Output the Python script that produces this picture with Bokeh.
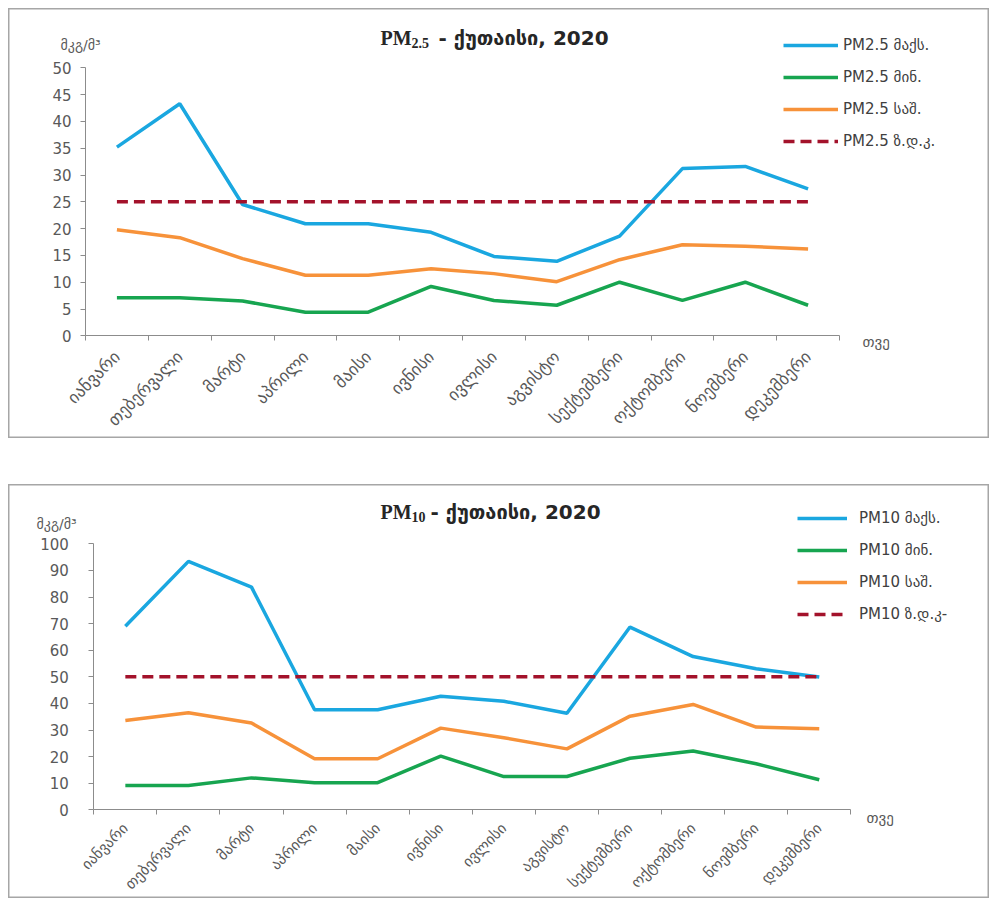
import math
from bokeh.plotting import figure
from bokeh.models import Range1d, FixedTicker, Label, Legend, LegendItem, Spacer
from bokeh.layouts import column
from bokeh.embed import file_html
from bokeh.resources import INLINE

months = ["იანვარი", "თებერვალი", "მარტი", "აპრილი", "მაისი", "ივნისი",
          "ივლისი", "აგვისტო", "სექტემბერი", "ოქტომბერი", "ნოემბერი", "დეკემბერი"]

pm25_max = [35.2, 43.3, 24.5, 20.9, 20.9, 19.3, 14.8, 13.9, 18.6, 31.2, 31.6, 27.4]
pm25_min = [7.1, 7.1, 6.5, 4.4, 4.4, 9.2, 6.6, 5.7, 10.0, 6.6, 10.0, 5.7]
pm25_avg = [19.8, 18.3, 14.4, 11.3, 11.3, 12.5, 11.6, 10.1, 14.2, 17.0, 16.7, 16.2]
pm25_limit = 25

pm10_max = [69.0, 93.4, 83.7, 37.6, 37.6, 42.7, 40.8, 36.3, 68.7, 57.6, 53.0, 49.9]
pm10_min = [9.1, 9.1, 12.0, 10.2, 10.2, 20.2, 12.5, 12.5, 19.4, 22.1, 17.3, 11.3]
pm10_avg = [33.6, 36.5, 32.6, 19.2, 19.2, 30.7, 27.1, 22.9, 35.2, 39.6, 31.1, 30.5]
pm10_limit = 50

pm25_names = ["PM2.5 მაქს.", "PM2.5 მინ.", "PM2.5 საშ.", "PM2.5 ზ.დ.კ."]
pm10_names = ["PM10 მაქს.", "PM10 მინ.", "PM10 საშ.", "PM10 ზ.დ.კ-"]

y_unit = "მკგ/მ³"
x_unit = "თვე"
city = "- ქუთაისი, 2020"

C_MAX = "#1AA7E0"
C_MIN = "#17A550"
C_AVG = "#F7923A"
C_LIM = "#A3122B"
AXIS = "#8C8C8C"
TXT = "#595959"
GEO = "DejaVu Sans"
W = 981


def panel(H, page_top, ox, oy, aw, ah, ymax, ystep, series, lim, sub, names, lay):
    """ox, oy: axis origin in canvas px (from top-left); aw, ah: axis lengths in px."""
    sx = aw / 12.0
    sy = ah / ymax
    p = figure(width=W, height=H, output_backend="svg", toolbar_location=None,
               x_range=Range1d(-ox / sx, (W - ox) / sx),
               y_range=Range1d(-(H - oy) / sy, oy / sy),
               min_border=0, min_border_left=0, min_border_right=0,
               min_border_top=0, min_border_bottom=0)
    p.outline_line_color = "#A6A6A6"
    p.outline_line_width = 2
    p.xgrid.visible = False
    p.ygrid.visible = False
    p.background_fill_color = "white"
    p.border_fill_color = "white"

    xs = [i + 0.5 for i in range(12)]

    xa = p.xaxis[0]
    xa.fixed_location = 0
    xa.bounds = (0, 12)
    xa.ticker = FixedTicker(ticks=xs, minor_ticks=list(range(13)))
    xa.major_label_overrides = {x: m for x, m in zip(xs, months)}
    xa.major_label_orientation = math.pi / 4
    xa.major_tick_out = 0
    xa.major_tick_in = 0
    xa.minor_tick_out = 5
    xa.minor_tick_in = 0
    xa.minor_tick_line_color = AXIS
    xa.axis_line_color = AXIS
    xa.major_label_text_font = GEO
    xa.major_label_text_font_size = lay["mfont"]
    xa.major_label_text_color = TXT
    xa.major_label_standoff = lay["mstandoff"]

    ya = p.yaxis[0]
    ya.fixed_location = 0
    ya.bounds = (0, ymax)
    ya.ticker = FixedTicker(ticks=list(range(0, ymax + 1, ystep)), minor_ticks=[])
    ya.major_tick_out = 5
    ya.major_tick_in = 0
    ya.major_tick_line_color = AXIS
    ya.axis_line_color = AXIS
    ya.major_label_text_font = GEO
    ya.major_label_text_font_size = "15px"
    ya.major_label_text_color = TXT
    ya.major_label_standoff = lay["ystandoff"]

    mx, mn, av = series
    r1 = p.line(xs, mx, line_color=C_MAX, line_width=3.5)
    r2 = p.line(xs, mn, line_color=C_MIN, line_width=3.5)
    r3 = p.line(xs, av, line_color=C_AVG, line_width=3.5)
    r4 = p.line(xs, [lim] * 12, line_color=C_LIM, line_width=3.5, line_dash="11 6")

    def sxp(px):  # page x -> screen x in frame
        return px - 8

    def syp(py):  # page y -> screen y (from bottom)
        return H - (py - page_top)

    leg = Legend(items=[LegendItem(label=n, renderers=[r]) for n, r in zip(names, [r1, r2, r3, r4])],
                 location=(sxp(lay["leg_x"]), syp(lay["leg_bottom"])), orientation="vertical",
                 background_fill_alpha=0, border_line_color=None, padding=0, margin=0,
                 glyph_width=lay["glyph_w"], glyph_height=20, label_height=20, spacing=12,
                 label_standoff=lay["standoff"], label_text_font=GEO, label_text_font_size="15px",
                 label_text_color="#404040")
    p.add_layout(leg, "center")

    common = dict(x_units="screen", y_units="screen", text_baseline="middle", text_color="#262626")
    tx, ty = sxp(lay["title_x"]), syp(lay["title_y"])
    t1 = Label(x=tx, y=ty, text="PM", text_font="Liberation Serif",
               text_font_style="bold", text_font_size="20px", **common)
    t2 = Label(x=tx, y=ty, x_offset=31, y_offset=-5, text=sub, text_font="Liberation Serif",
               text_font_style="bold", text_font_size="14px", **common)
    t3 = Label(x=tx, y=ty, x_offset=34 + 8 * len(sub), text=city, text_font=GEO,
               text_font_style="bold", text_font_size="20px", **common)
    yl = Label(x=sxp(lay["ylab_x"]), y=syp(lay["ylab_y"]), text=y_unit, text_font=GEO,
               text_font_size="14px", x_units="screen", y_units="screen",
               text_baseline="middle", text_color=TXT)
    xl = Label(x=sxp(lay["xlab_x"]), y=syp(lay["xlab_y"]), text=x_unit, text_font=GEO,
               text_font_size="15px", x_units="screen", y_units="screen",
               text_baseline="middle", text_color=TXT)
    for a in (t1, t2, t3, yl, xl):
        p.add_layout(a)
    return p


lay1 = dict(leg_x=783, leg_bottom=151, glyph_w=55, standoff=5, title_x=380, title_y=37,
            ylab_x=60, ylab_y=44, xlab_x=862, xlab_y=341, ystandoff=9,
            mfont="17px", mstandoff=13)
lay2 = dict(leg_x=797, leg_bottom=624, glyph_w=50, standoff=12, title_x=380, title_y=511,
            ylab_x=36, ylab_y=523, xlab_x=866, xlab_y=817, ystandoff=20,
            mfont="15px", mstandoff=11)

p1 = panel(430, 8, 77, 327.3, 754, 268, 50, 5, (pm25_max, pm25_min, pm25_avg), pm25_limit,
           "2.5", pm25_names, lay1)
p2 = panel(414, 484, 85.3, 325.3, 757, 266, 100, 10, (pm10_max, pm10_min, pm10_avg), pm10_limit,
           "10", pm10_names, lay2)

layout = column(p1, Spacer(height=46), p2, spacing=0, margin=(8, 0, 0, 8))
open("out.html", "w").write(file_html(layout, INLINE))
